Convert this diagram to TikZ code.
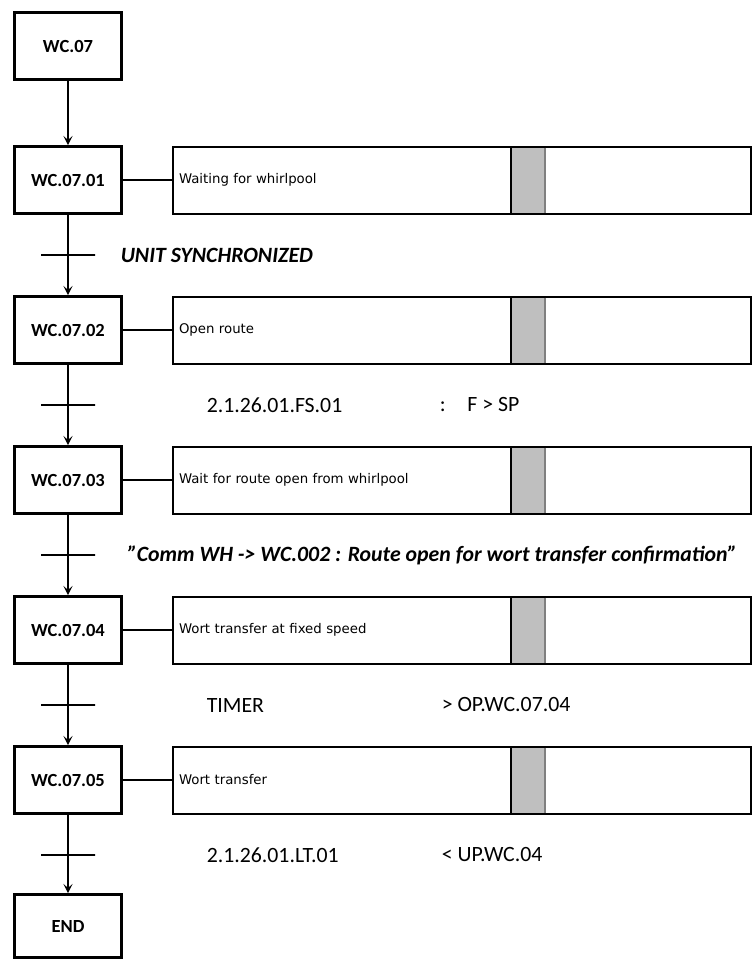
\documentclass[tikz,border=0pt]{standalone}
\usepackage{fontspec}
\setmainfont{Carlito}
\newfontfamily\actfont{DejaVu Sans}
\usepackage{tikz}
\usetikzlibrary{arrows.meta,positioning}

\definecolor{barfill}{gray}{0.75}
\definecolor{baredge}{gray}{0.5}

\tikzset{
  stepbox/.style={draw, line width=3pt, minimum width=107pt, minimum height=67pt,
    inner sep=0pt, font=\fontsize{18.5}{20}\selectfont\bfseries},
  actbox/.style={draw, line width=2pt, minimum width=578pt, minimum height=67pt,
    text width=566pt, align=left, inner xsep=6pt, outer sep=0pt,
    font=\actfont\fontsize{13.3}{15}\selectfont},
  trans/.style={draw, line width=1.5pt, minimum width=54pt, minimum height=0pt, inner sep=0pt},
  cond/.style={inner sep=0pt, font=\fontsize{21.8}{24}\selectfont},
  condbf/.style={inner sep=0pt, font=\fontsize{21.8}{24}\selectfont\bfseries\itshape}
}

\begin{document}
\begin{tikzpicture}[node distance=150pt, on grid, line width=1.5pt,
    >={Stealth[length=9pt,width=9pt,inset=4pt]}]
  \useasboundingbox (0pt,0pt) rectangle (753pt,-959pt);

  \node[stepbox] (wc07) at (68pt,-46pt) {WC.07};
  \node[stepbox] (s1) [below=134pt of wc07] {WC.07.01};
  \node[stepbox] (s2) [below=of s1] {WC.07.02};
  \node[stepbox] (s3) [below=of s2] {WC.07.03};
  \node[stepbox] (s4) [below=of s3] {WC.07.04};
  \node[stepbox] (s5) [below=of s4] {WC.07.05};
  \node[stepbox, minimum height=63pt] (end) [below=146pt of s5] {END};

  \node[actbox] (a1) [right=394pt of s1] {Waiting for whirlpool};
  \node[actbox] (a2) [right=394pt of s2] {Open route};
  \node[actbox] (a3) [right=394pt of s3] {Wait for route open from whirlpool};
  \node[actbox] (a4) [right=394pt of s4] {Wort transfer at fixed speed};
  \node[actbox] (a5) [right=394pt of s5] {Wort transfer};

  % grey bar in each action box
  \foreach \a in {a1,a2,a3,a4,a5} {
    \fill[barfill] ([xshift=338pt,yshift=-1pt]\a.north west) rectangle ([xshift=372pt,yshift=1pt]\a.south west);
    \draw ([xshift=338pt]\a.north west) -- ([xshift=338pt]\a.south west);
    \draw[baredge] ([xshift=372pt,yshift=-1pt]\a.north west) -- ([xshift=372pt,yshift=1pt]\a.south west);
  }

  \node[trans] (t1) [below=75pt of s1] {};
  \node[trans] (t2) [below=75pt of s2] {};
  \node[trans] (t3) [below=75pt of s3] {};
  \node[trans] (t4) [below=75pt of s4] {};
  \node[trans] (t5) [below=75pt of s5] {};

  \node[condbf] (c1) [right=52pt of t1, anchor=west] {UNIT SYNCHRONIZED};
  \node[cond] (c2) [right=138pt of t2, anchor=west] {2.1.26.01.FS.01};
  \node[cond] (c2v) [right=371pt of t2, anchor=west] {:\quad F > SP};
  \node[condbf] (c3) [right=59pt of t3, anchor=west] {\char34 Comm WH -> WC.002 : Route open for wort transfer confirmation\char34};
  \node[cond] (c4) [right=138pt of t4, anchor=west] {TIMER};
  \node[cond] (c4v) [right=373pt of t4, anchor=west] {> OP.WC.07.04};
  \node[cond] (c5) [right=138pt of t5, anchor=west] {2.1.26.01.LT.01};
  \node[cond] (c5v) [right=373pt of t5, anchor=west] {< UP.WC.04};

  \path[->]
    (wc07) edge (s1)
    (s1) edge (s2)
    (s2) edge (s3)
    (s3) edge (s4)
    (s4) edge (s5)
    (s5) edge (end);

  \path
    (s1) edge (a1)
    (s2) edge (a2)
    (s3) edge (a3)
    (s4) edge (a4)
    (s5) edge (a5);

\end{tikzpicture}
\end{document}
